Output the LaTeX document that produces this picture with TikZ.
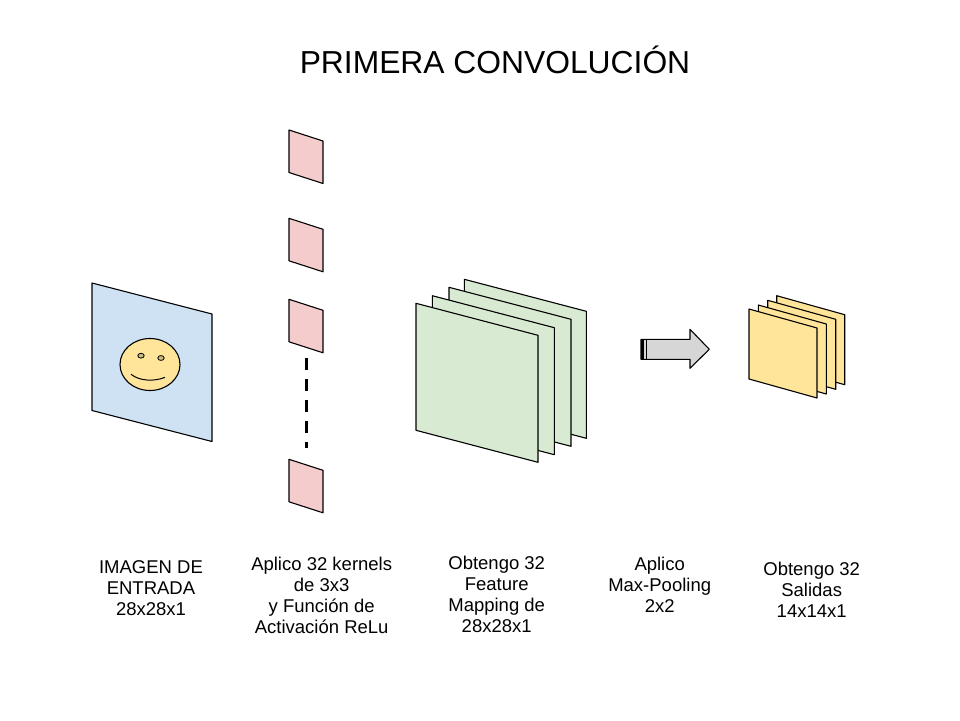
\documentclass[tikz,border=0pt]{standalone}
\usepackage{fontspec}
\setmainfont{Liberation Sans}
\usepackage{xcolor}
\usepackage{tikz}

\definecolor{azulentrada}{HTML}{CFE2F3}
\definecolor{rojokernel}{HTML}{F4CCCC}
\definecolor{verdemapa}{HTML}{D9EAD3}
\definecolor{amarillosalida}{HTML}{FFE599}
\definecolor{grisflecha}{HTML}{D6D6D6}
\definecolor{ojos}{HTML}{CDBB7F}

\begin{document}
\begin{tikzpicture}[x=1pt,y=-1pt,
  capa/.style={draw=black, line width=1.1pt, line join=round},
  etiqueta/.style={anchor=north, inner sep=0pt, align=center, font=\fontsize{18.5}{21}\selectfont}]
\useasboundingbox (0,0) rectangle (960,720);

  \node[anchor=north, inner sep=0pt, font=\fontsize{31.8}{36}\selectfont] (titulo) at (495,45.5) {PRIMERA CONVOLUCIÓN};

  % imagen de entrada
  \draw[capa, fill=azulentrada] (92,283) -- ++(120,31) -- ++(0,127.5) -- ++(-120,-31) -- cycle;
  \draw[capa, fill=amarillosalida] (150,364.5) ellipse [x radius=30, y radius=26];
  \draw[line width=0.8pt, fill=ojos] (141,355.7) ellipse [x radius=3.2, y radius=2.4];
  \draw[line width=0.8pt, fill=ojos] (161,358) ellipse [x radius=3.2, y radius=2.4];
  \draw[line width=1pt] (131,374.3) .. controls (140,381.5) and (155,381.5) .. (165,377.3);

  % kernels
  \draw[capa, fill=rojokernel] (289,130) -- ++(34,11) -- ++(0,42.5) -- ++(-34,-11) -- cycle;
  \draw[capa, fill=rojokernel] (289,218.3) -- ++(34,11) -- ++(0,42.5) -- ++(-34,-11) -- cycle;
  \draw[capa, fill=rojokernel] (289,299.3) -- ++(34,11) -- ++(0,42.5) -- ++(-34,-11) -- cycle;
  \draw[capa, fill=rojokernel] (289,459.3) -- ++(34,11) -- ++(0,42.5) -- ++(-34,-11) -- cycle;
  \draw[line width=3pt, dash pattern=on 12pt off 9pt] (306,358) -- (306,448);

  % feature maps
  \draw[capa, fill=verdemapa] (464.3,279.3) -- ++(122,32) -- ++(0,127) -- ++(-122,-32) -- cycle;
  \draw[capa, fill=verdemapa] (449,287.3) -- ++(122,32) -- ++(0,127) -- ++(-122,-32) -- cycle;
  \draw[capa, fill=verdemapa] (432.3,295.7) -- ++(122,32) -- ++(0,127) -- ++(-122,-32) -- cycle;
  \draw[capa, fill=verdemapa] (416,303.3) -- ++(122,32) -- ++(0,127) -- ++(-122,-32) -- cycle;

  % max-pooling
  \draw[capa, fill=grisflecha] (641,339.3) -- (690,339.3) -- (690,329.3) -- (709.3,349.3)
    -- (690,368.3) -- (690,359.3) -- (641,359.3) -- cycle;
  \fill[black] (641,339.3) rectangle (644.3,359.3);
  \draw[line width=1.1pt] (646.6,339.3) -- (646.6,359.3);

  % salidas
  \draw[capa, fill=amarillosalida] (776.7,295.7) -- ++(68,19) -- ++(0,70) -- ++(-68,-19) -- cycle;
  \draw[capa, fill=amarillosalida] (767.7,300.3) -- ++(68,19) -- ++(0,70) -- ++(-68,-19) -- cycle;
  \draw[capa, fill=amarillosalida] (758.3,305) -- ++(68,19) -- ++(0,70) -- ++(-68,-19) -- cycle;
  \draw[capa, fill=amarillosalida] (749,309) -- ++(68,19) -- ++(0,70) -- ++(-68,-19) -- cycle;

  % textos
  \node[etiqueta] (entrada) at (151,560.7) {IMAGEN DE\\ENTRADA\\28x28x1};
  \node[etiqueta] (kernels) at (321.7,556.7) {Aplico 32 kernels\\de 3x3\\y Función de\\Activación ReLu};
  \node[etiqueta] (mapas) at (496.7,555.5) {Obtengo 32\\Feature\\Mapping de\\28x28x1};
  \node[etiqueta] (pooling) at (659.7,556.7) {Aplico\\Max-Pooling\\2x2};
  \node[etiqueta] (salidas) at (811.7,561.7) {Obtengo 32\\Salidas\\14x14x1};
\end{tikzpicture}
\end{document}
